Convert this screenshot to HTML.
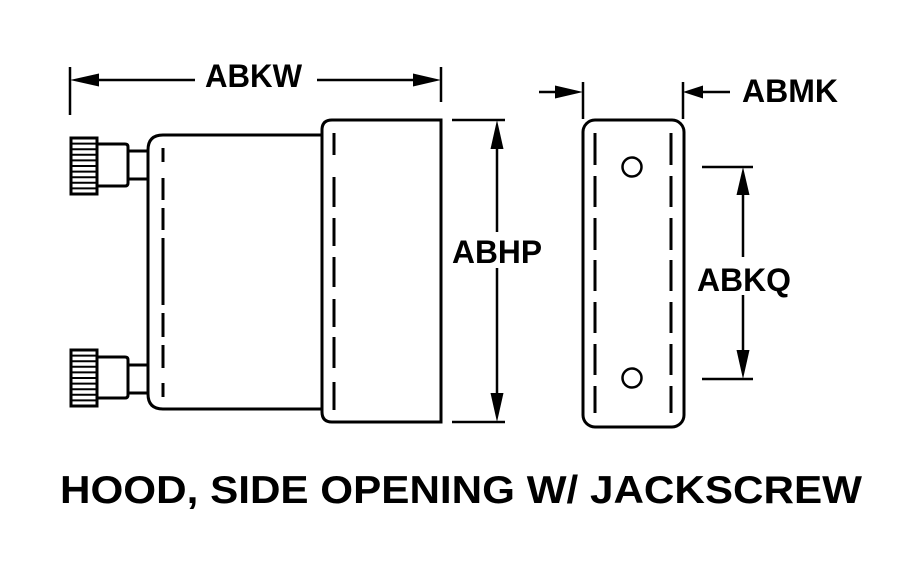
<!DOCTYPE html>
<html><head><meta charset="utf-8"><style>
html,body{margin:0;padding:0;background:#fff;}
svg{display:block;}
text{font-family:"Liberation Sans",Arial,sans-serif;font-weight:bold;fill:#000;}
</style></head><body>
<svg width="900" height="570" viewBox="0 0 900 570" xmlns="http://www.w3.org/2000/svg">
<rect width="900" height="570" fill="#fff"/>
<g stroke="#000" fill="none" stroke-width="3">
  <!-- body -->
  <path d="M322 135 L163 135 Q148 135 148 150 L148 394 Q148 409 163 409 L322 409"/>
  <!-- hood -->
  <path d="M441 120 L332 120 Q322 120 322 130 L322 412 Q322 422 332 422 L441 422 Z"/>
  <!-- plate -->
  <rect x="583" y="120" width="101" height="307" rx="12" ry="12"/>
  <!-- holes -->
  <circle cx="632" cy="167" r="9.5" stroke-width="2.5"/>
  <circle cx="632" cy="378" r="9.5" stroke-width="2.5"/>
  <!-- top jackscrew -->
  <rect x="71" y="138" width="26" height="56"/>
  <path d="M97 144 L125 144 Q128 144 128 147 L128 183 Q128 186 125 186 L97 186"/>
  <path d="M128 151 L148 151 M128 179 L148 179"/>
  <!-- bottom jackscrew -->
  <rect x="71" y="350" width="26" height="56"/>
  <path d="M97 357 L125 357 Q128 357 128 360 L128 395 Q128 398 125 398 L97 398"/>
  <path d="M128 365 L148 365 M128 393 L148 393"/>
</g>
<g stroke="#000" stroke-width="2">
  <path d="M71 143.6H97 M71 149.2H97 M71 154.8H97 M71 160.4H97 M71 166H97 M71 171.6H97 M71 177.2H97 M71 182.8H97 M71 188.4H97"/>
  <path d="M71 355.6H97 M71 361.2H97 M71 366.8H97 M71 372.4H97 M71 378H97 M71 383.6H97 M71 389.2H97 M71 394.8H97 M71 400.4H97"/>
</g>
<!-- dashed hidden lines -->
<g stroke="#000" stroke-width="3" fill="none">
  <path d="M163 148V162 M163 178V200 M163 208V230 M163 238V305 M163 313V337 M163 345V368 M163 383V397"/>
  <path d="M334 133V155 M334 177V207 M334 218V246 M334 257V287 M334 299V327 M334 337V368 M334 382V410"/>
  <path d="M595 133V165 M595 176V207 M595 218V250 M595 260V291 M595 302V333 M595 344V375 M595 386V413"/>
  <path d="M671 133V165 M671 176V207 M671 218V250 M671 260V291 M671 302V333 M671 344V375 M671 386V413"/>
</g>
<!-- dimension lines -->
<g stroke="#000" stroke-width="2.5" fill="none">
  <path d="M70 67V115 M441 67V102"/>
  <path d="M95 80H195 M317 80H415"/>
  <path d="M452 120H505 M452 422H505"/>
  <path d="M497 145V232 M497 268V397"/>
  <path d="M583 82V119 M683 82V119"/>
  <path d="M539 92H558 M700 92H730"/>
  <path d="M702 167H753 M702 379H753"/>
  <path d="M743 190V257 M743 295V355"/>
</g>
<g fill="#000" stroke="none">
  <polygon points="70,80 99,73.5 99,86.5"/>
  <polygon points="441,80 413,73.5 413,86.5"/>
  <polygon points="497,120 490.5,149 503.5,149"/>
  <polygon points="497,422 490.5,393 503.5,393"/>
  <polygon points="583,92 555,85.5 555,98.5"/>
  <polygon points="683,92 703,85.5 703,98.5"/>
  <polygon points="743,167 736.5,195 749.5,195"/>
  <polygon points="743,379 736.5,350 749.5,350"/>
</g>
<!-- labels -->
<text x="205" y="87" font-size="32" textLength="97" lengthAdjust="spacingAndGlyphs">ABKW</text>
<text x="452" y="263" font-size="32" textLength="90" lengthAdjust="spacingAndGlyphs">ABHP</text>
<text x="742" y="102" font-size="32" textLength="96" lengthAdjust="spacingAndGlyphs">ABMK</text>
<text x="697" y="291" font-size="32" textLength="94" lengthAdjust="spacingAndGlyphs">ABKQ</text>
<text x="60" y="503" font-size="39" textLength="802" lengthAdjust="spacingAndGlyphs">HOOD, SIDE OPENING W/ JACKSCREW</text>
</svg>
</body></html>
